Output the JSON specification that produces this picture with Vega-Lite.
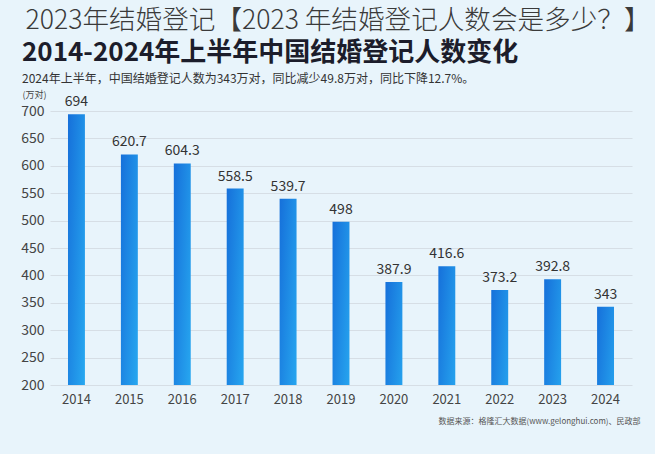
{
  "$schema": "https://vega.github.io/schema/vega-lite/v6.json",
  "width": 582,
  "height": 274,
  "autosize": "none",
  "padding": {"left": 50, "top": 111, "right": 23, "bottom": 69},
  "background": "#e8f4fb",
  "config": {
    "font": "Noto Sans CJK SC",
    "view": {"stroke": null}
  },
  "title": {
    "text": "2014-2024年上半年中国结婚登记人数变化",
    "subtitle": "2024年上半年，中国结婚登记人数为343万对，同比减少49.8万对，同比下降12.7%。",
    "anchor": "start",
    "frame": "group",
    "dx": -28,
    "offset": -78,
    "fontSize": 26,
    "fontWeight": "bold",
    "color": "#1c1d2b",
    "subtitleFontSize": 12,
    "subtitleColor": "#333333",
    "subtitlePadding": 8,
    "font": "Noto Sans CJK SC",
    "subtitleFont": "Noto Sans CJK SC"
  },
  "data": {
    "values": [
      {"year": "2014", "value": 694},
      {"year": "2015", "value": 620.7},
      {"year": "2016", "value": 604.3},
      {"year": "2017", "value": 558.5},
      {"year": "2018", "value": 539.7},
      {"year": "2019", "value": 498},
      {"year": "2020", "value": 387.9},
      {"year": "2021", "value": 416.6},
      {"year": "2022", "value": 373.2},
      {"year": "2023", "value": 392.8},
      {"year": "2024", "value": 343}
    ]
  },
  "encoding": {
    "x": {
      "field": "year",
      "type": "ordinal",
      "scale": {"paddingInner": 0.68, "paddingOuter": 0.34},
      "axis": {
        "labelAngle": 0,
        "labelFontSize": 13,
        "labelColor": "#444444",
        "labelPadding": 8,
        "ticks": false,
        "domain": false,
        "title": "数据来源：格隆汇大数据(www.gelonghui.com)、民政部",
        "titleFontSize": 8,
        "titleFontWeight": "normal",
        "titleColor": "#555555",
        "titleAnchor": "end",
        "titleAlign": "right",
        "titleX": 590,
        "titleY": 36,
        "titleBaseline": "middle"
      }
    }
  },
  "layer": [
    {
      "mark": {
        "type": "bar",
        "clip": true,
        "color": {
          "gradient": "linear",
          "x1": 0, "y1": 0, "x2": 1, "y2": 1,
          "stops": [
            {"offset": 0, "color": "#1670da"},
            {"offset": 1, "color": "#2ab2f4"}
          ]
        }
      },
      "encoding": {
        "y": {
          "field": "value",
          "type": "quantitative",
          "scale": {"domain": [200, 700], "zero": false, "nice": false},
          "axis": {
            "values": [200, 250, 300, 350, 400, 450, 500, 550, 600, 650, 700],
            "labelFontSize": 14,
            "labelColor": "#444444",
            "labelPadding": 6,
            "ticks": false,
            "domain": false,
            "grid": true,
            "gridColor": "#d6dee5",
            "title": "(万对)",
            "titleAngle": 0,
            "titleAlign": "left",
            "titleX": -28,
            "titleY": -17,
            "titleBaseline": "middle",
            "titleFontSize": 9,
            "titleFontWeight": "normal",
            "titleColor": "#444444"
          }
        }
      }
    },
    {
      "mark": {"type": "text", "baseline": "bottom", "dy": -5, "fontSize": 14, "color": "#333333"},
      "encoding": {
        "y": {
          "field": "value",
          "type": "quantitative",
          "scale": {"domain": [200, 700], "zero": false, "nice": false},
          "axis": {
            "orient": "right",
            "labels": false,
            "ticks": false,
            "domain": false,
            "grid": false,
            "title": "2023年结婚登记【2023 年结婚登记人数会是多少？】",
            "titleAngle": 0,
            "titleAlign": "left",
            "titleX": -607,
            "titleY": -91,
            "titleBaseline": "middle",
            "titleFontSize": 26.6,
            "titleFontWeight": 300,
            "titleColor": "#3a3a3a"
          }
        },
        "text": {"field": "value", "type": "quantitative"}
      }
    }
  ],
  "resolve": {"scale": {"y": "independent"}, "axis": {"y": "independent"}}
}
